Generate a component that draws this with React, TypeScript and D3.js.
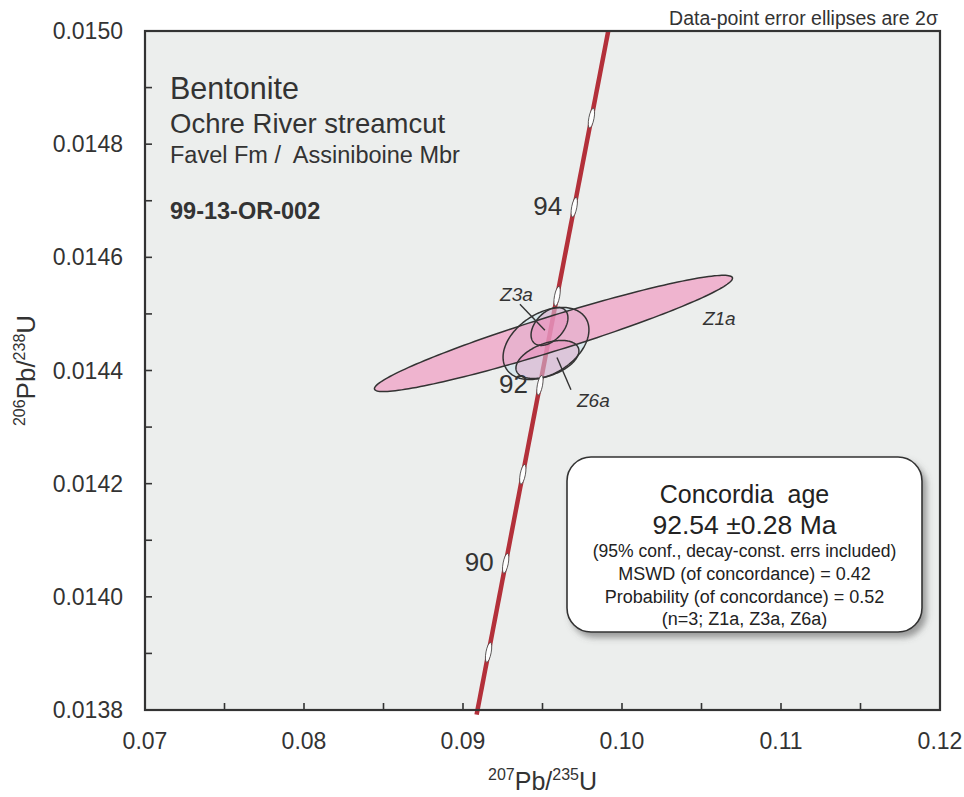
import React from 'react';
import * as d3 from 'd3';

const W = 964;
const H = 797;
const margin = { top: 31, right: 24, bottom: 87, left: 145 };

// axes
const xDomain = [0.07, 0.12];
const yDomain = [0.0138, 0.015];
const xTicks = [0.07, 0.08, 0.09, 0.1, 0.11, 0.12];
const yTicks = [0.0138, 0.014, 0.0142, 0.0144, 0.0146, 0.0148, 0.015];

// concordia (decay constants, per year) and age marks in Ma
const lambda238 = 1.55125e-10;
const lambda235 = 9.8485e-10;
const ageRange = [88.3, 95.98];
const ageMarks = [89, 90, 91, 92, 93, 94, 95];
const ageLabels = [90, 92, 94];

// analyses: 207Pb/235U, 2s, 206Pb/238U, 2s, rho
const names = ['Z1a', 'Z3a', 'Z6a'];
const r75 = [0.09569, 0.09544, 0.09531];
const e75 = [0.01126, 0.00116, 0.00198];
const r68 = [0.0144655, 0.0144779, 0.0144195];
const e68 = [0.0001027, 0.0000336, 0.0000336];
const rhos = [0.95, 0.45, 0.45];

// concordia age ellipse
const ageEllipse = { x: 0.09522, sx: 0.0027, y: 0.0144478, sy: 0.0000637, rho: 0.38 };

// sample labels [x, y] in data units, with leader lines
const labelPos = [[0.10509, 0.01448], [0.09233, 0.014522], [0.09717, 0.014336]];
const leaders = [null, [0.09358, 0.014517, 0.09515, 0.014471], [0.09679, 0.014366, 0.09591, 0.014423]];

const titleLines = ['Bentonite', 'Ochre River streamcut', 'Favel Fm /\u00a0 Assiniboine Mbr'];
const sampleId = '99-13-OR-002';
const boxLines = [
  'Concordia\u00a0 age',
  '92.54 \u00b10.28 Ma',
  '(95% conf., decay-const. errs included)',
  'MSWD (of concordance) = 0.42',
  'Probability (of concordance) = 0.52',
  '(n=3; Z1a, Z3a, Z6a)',
];

const FONT = '"Liberation Sans", Arial, Helvetica, sans-serif';
const INK = '#333';

const App = () => {
  const innerW = W - margin.left - margin.right;
  const innerH = H - margin.top - margin.bottom;
  const x = d3.scaleLinear().domain(xDomain).range([margin.left, margin.left + innerW]);
  const y = d3.scaleLinear().domain(yDomain).range([margin.top + innerH, margin.top]);

  const conc = (t: number) => [Math.expm1(lambda235 * t * 1e6), Math.expm1(lambda238 * t * 1e6)];
  const ages = d3.range(ageRange[0], ageRange[1], 0.05).concat([ageRange[1]]);
  const line = d3.line<number[]>().x(d => x(d[0])).y(d => y(d[1]));
  const concPath = line(ages.map(conc));

  const ellipsePath = (cx: number, sx: number, cy: number, sy: number, rho: number) => {
    const th = d3.range(0, 2 * Math.PI, Math.PI / 90);
    const pts = th.map(a => [cx + sx * Math.cos(a), cy + sy * (rho * Math.cos(a) + Math.sqrt(1 - rho * rho) * Math.sin(a))]);
    return d3.line<number[]>().x(d => x(d[0])).y(d => y(d[1])).curve(d3.curveLinearClosed)(pts);
  };

  const markerAngle = (t: number) => {
    const a = conc(t - 0.01), b = conc(t + 0.01);
    return (Math.atan2(y(b[1]) - y(a[1]), x(b[0]) - x(a[0])) * 180) / Math.PI;
  };

  const samplePaths = names.map((_, i) => ellipsePath(r75[i], e75[i], r68[i], e68[i], rhos[i]));
  const agePath = ellipsePath(ageEllipse.x, ageEllipse.sx, ageEllipse.y, ageEllipse.sy, ageEllipse.rho);

  const fx = d3.format('.2f');
  const fy = d3.format('.4f');
  const xMinor = d3.range(xDomain[0], xDomain[1] + 1e-9, 0.005);
  const yMinor = d3.range(yDomain[0], yDomain[1] + 1e-9, 0.0001);

  const box = { x: 567, y: 457, w: 355, h: 175 };
  const boxCx = box.x + box.w / 2;
  const boxBase = [503, 534, 557, 580, 603, 625];
  const boxSize = [25, 26.5, 17.5, 18, 18, 18];

  return (
    <svg width={W} height={H} style={{ position: 'absolute', left: 0, top: 0, background: '#fff' }} fontFamily={FONT}>
      <defs>
        <clipPath id="plotClip">
          <rect x={margin.left} y={margin.top} width={innerW} height={innerH + 6} />
        </clipPath>
        <filter id="shadow" x="-10%" y="-10%" width="130%" height="130%">
          <feDropShadow dx="4" dy="5" stdDeviation="3" floodColor="#555" floodOpacity="0.55" />
        </filter>
      </defs>

      {/* plot background */}
      <rect x={margin.left} y={margin.top} width={innerW} height={innerH} fill="#eceeed" />

      {/* ticks (inside) */}
      {xMinor.map((v, i) => (
        <line key={'xt' + i} x1={x(v)} x2={x(v)} y1={y(yDomain[0])} y2={y(yDomain[0]) - 7} stroke={INK} strokeWidth={1.6} />
      ))}
      {yMinor.map((v, i) => (
        <line key={'yt' + i} x1={x(xDomain[0])} x2={x(xDomain[0]) + 7} y1={y(v)} y2={y(v)} stroke={INK} strokeWidth={1.6} />
      ))}

      {/* concordia curve */}
      <g clipPath="url(#plotClip)">
        <path d={concPath || ''} fill="none" stroke="#b3303a" strokeWidth={4.5} />
      </g>

      {/* ellipses */}
      <path d={agePath || ''} fill="#c6e2eb" fillOpacity={0.5} stroke="none" />
      <path d={samplePaths[0] || ''} fill="#f28dbb" fillOpacity={0.6} stroke="none" />
      <path d={samplePaths[1] || ''} fill="#e678b0" fillOpacity={0.3} stroke="none" />
      <path d={samplePaths[2] || ''} fill="#e678b0" fillOpacity={0.3} stroke="none" />
      <path d={samplePaths[0] || ''} fill="none" stroke={INK} strokeWidth={1.5} />
      <path d={agePath || ''} fill="none" stroke={INK} strokeWidth={1.5} />
      <path d={samplePaths[1] || ''} fill="none" stroke={INK} strokeWidth={1.5} />
      <path d={samplePaths[2] || ''} fill="none" stroke={INK} strokeWidth={1.5} />

      {/* age markers */}
      {ageMarks.map(t => {
        const p = conc(t);
        return (
          <ellipse key={'m' + t} cx={x(p[0])} cy={y(p[1])} rx={10} ry={2.6} fill="#fff" stroke="#444" strokeWidth={0.8}
            transform={`rotate(${markerAngle(t)} ${x(p[0])} ${y(p[1])})`} />
        );
      })}
      {ageLabels.map(t => {
        const p = conc(t);
        return (
          <text key={'al' + t} x={x(p[0]) - 12} y={y(p[1]) + 8} textAnchor="end" fontSize={26} fill={INK}>{t}</text>
        );
      })}

      {/* sample labels */}
      {names.map((n, i) => (
        <text key={n} x={x(labelPos[i][0])} y={y(labelPos[i][1])} fontSize={19} fontStyle="italic" fill={INK}>{n}</text>
      ))}
      {leaders.map((l, i) => l && (
        <line key={'ld' + i} x1={x(l[0])} y1={y(l[1])} x2={x(l[2])} y2={y(l[3])} stroke={INK} strokeWidth={1.4} />
      ))}

      {/* frame */}
      <rect x={margin.left} y={margin.top} width={innerW} height={innerH} fill="none" stroke={INK} strokeWidth={2.2} />

      {/* tick labels */}
      {xTicks.map(v => (
        <text key={'xl' + v} x={x(v)} y={y(yDomain[0]) + 39} textAnchor="middle" fontSize={23} fill={INK}>{fx(v)}</text>
      ))}
      {yTicks.map(v => (
        <text key={'yl' + v} x={margin.left - 22} y={y(v) + 8} textAnchor="end" fontSize={23} fill={INK}>{fy(v)}</text>
      ))}

      {/* axis titles */}
      <text x={margin.left + innerW / 2} y={790} textAnchor="middle" fontSize={25} fill={INK}>
        <tspan fontSize={16} dy={-10}>207</tspan>
        <tspan dy={10}>Pb/</tspan>
        <tspan fontSize={16} dy={-10}>235</tspan>
        <tspan dy={10}>U</tspan>
      </text>
      <text transform={`translate(35,${margin.top + innerH / 2}) rotate(-90)`} textAnchor="middle" fontSize={26} fill={INK}>
        <tspan fontSize={16} dy={-10}>206</tspan>
        <tspan dy={10}>Pb/</tspan>
        <tspan fontSize={16} dy={-10}>238</tspan>
        <tspan dy={10}>U</tspan>
      </text>

      {/* note */}
      <text x={938} y={25} textAnchor="end" fontSize={19.5} fill={INK}>Data-point error ellipses are 2{'\u03c3'}</text>

      {/* sample description */}
      <text x={170} y={99} fontSize={30.5} fill={INK}>{titleLines[0]}</text>
      <text x={170} y={133} fontSize={27.5} fill={INK}>{titleLines[1]}</text>
      <text x={170} y={163} fontSize={23.5} fill={INK}>{titleLines[2]}</text>
      <text x={170} y={219} fontSize={23.5} fontWeight="bold" fill={INK}>{sampleId}</text>

      {/* concordia age box */}
      <rect x={box.x} y={box.y} width={box.w} height={box.h} rx={24} ry={24} fill="#fff" stroke={INK} strokeWidth={1.6} filter="url(#shadow)" />
      {boxLines.map((s, i) => (
        <text key={'b' + i} x={boxCx} y={boxBase[i]} textAnchor="middle" fontSize={boxSize[i]} fill="#222">{s}</text>
      ))}
    </svg>
  );
};

export default App;
